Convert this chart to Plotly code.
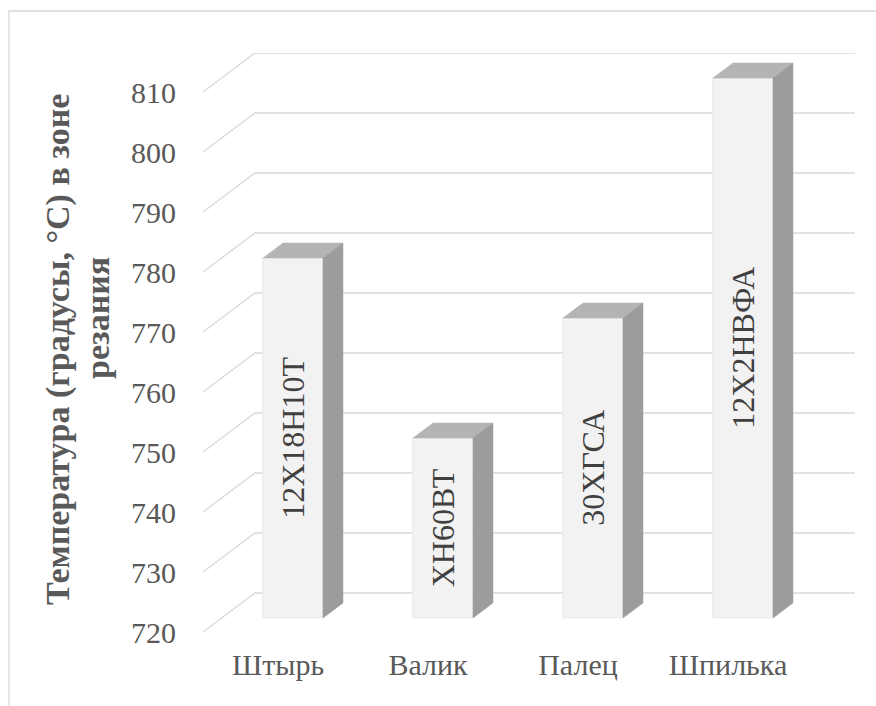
import plotly.graph_objects as go

# ---- data ----
categories = ["Штырь", "Валик", "Палец", "Шпилька"]
temperatures = [780, 750, 770, 810]
steel_grades = ["12Х18Н10Т", "ХН60ВТ", "30ХГСА", "12Х2НВФА"]
y_ticks = [720, 730, 740, 750, 760, 770, 780, 790, 800, 810]
y_title_lines = ["Температура (градусы, °C) в зоне", "резания"]

# ---- pseudo-3D geometry (data units) ----
Y_MIN = 720
WALL_DX, WALL_DY = 0.3467, 6.5      # depth of the back wall
BAR_OFF_X, BAR_OFF_Y = 0.10, 2.33   # bar front plane offset
BAR_DX, BAR_DY = 0.1333, 2.5        # bar depth
BAR_W = 0.4
X_RANGE = [-0.5, 3.8467]
Y_RANGE = [720, 816.5]

FRONT = "#F2F2F2"
TOP = "#B4B4B4"
SIDE = "#9C9C9C"
GRID = "#D9D9D9"
TXT = "#595959"
FONT = "Times New Roman, Liberation Serif, serif"

idx = list(range(len(categories)))
fig = go.Figure()

# front faces
fig.add_trace(go.Bar(
    x=[i + BAR_OFF_X for i in idx],
    y=[v - Y_MIN for v in temperatures],
    base=[Y_MIN + BAR_OFF_Y] * len(idx),
    width=[BAR_W] * len(idx),
    marker=dict(color=FRONT, line=dict(color="#E2E2E2", width=0.6)),
    text=steel_grades,
    textposition="inside",
    insidetextanchor="middle",
    textangle=-90,
    textfont=dict(family=FONT, size=32, color="#404040"),
    constraintext="none",
    hoverinfo="skip",
    showlegend=False,
))

# top and side faces
for i, v in zip(idx, temperatures):
    x0 = i + BAR_OFF_X - BAR_W / 2
    x1 = i + BAR_OFF_X + BAR_W / 2
    top = v + BAR_OFF_Y
    base = Y_MIN + BAR_OFF_Y
    fig.add_trace(go.Scatter(
        x=[x0, x1, x1 + BAR_DX, x0 + BAR_DX, x0],
        y=[top, top, top + BAR_DY, top + BAR_DY, top],
        mode="lines", fill="toself", fillcolor=TOP,
        line=dict(color=TOP, width=0.5), hoverinfo="skip", showlegend=False))
    fig.add_trace(go.Scatter(
        x=[x1, x1 + BAR_DX, x1 + BAR_DX, x1, x1],
        y=[top, top + BAR_DY, base + BAR_DY, base, top],
        mode="lines", fill="toself", fillcolor=SIDE,
        line=dict(color=SIDE, width=0.5), hoverinfo="skip", showlegend=False))

# gridlines: floor-side diagonal + back wall
shapes = []
for t in y_ticks:
    xa = X_RANGE[0]
    xb = X_RANGE[0] + WALL_DX
    shapes.append(dict(
        type="path", xref="x", yref="y", layer="below",
        path=f"M {xa},{t} L {xb},{t + WALL_DY} L {X_RANGE[1]},{t + WALL_DY}",
        line=dict(color=GRID, width=1.4)))

# chart frame (top and left edges visible)
W, H = 876, 706
L, R, T, B = 203, 21, 53, 74
pw, ph = W - L - R, H - T - B
def px(x): return (x - L) / pw
def py(y): return (H - B - y) / ph
shapes.append(dict(type="path", xref="paper", yref="paper", layer="below",
                   path=f"M {px(9)},{py(706)} L {px(9)},{py(11)} L {px(876)},{py(11)}",
                   line=dict(color="#D9D9D9", width=1.3)))

title_pos = [(58, 350), (97, 318)]
annotations = [dict(
    text="<b>" + line + "</b>", xref="paper", yref="paper",
    x=px(cx), y=py(cy), xanchor="center", yanchor="middle",
    textangle=-90, showarrow=False,
    font=dict(family=FONT, size=34, color=TXT))
    for line, (cx, cy) in zip(y_title_lines, title_pos)]

fig.update_layout(
    width=W, height=H,
    margin=dict(l=L, r=R, t=T, b=B, autoexpand=False),
    paper_bgcolor="white", plot_bgcolor="rgba(0,0,0,0)",
    shapes=shapes,
    bargap=0,
    xaxis=dict(range=X_RANGE, tickvals=idx, ticktext=categories,
               showgrid=False, zeroline=False, showline=False, ticks="",
               tickfont=dict(family=FONT, size=30, color=TXT),
               ticklabelstandoff=12, fixedrange=True),
    yaxis=dict(range=Y_RANGE, tickvals=y_ticks,
               showgrid=False, zeroline=False, showline=False, ticks="",
               tickfont=dict(family=FONT, size=30, color=TXT),
               ticklabelstandoff=26, fixedrange=True),
    annotations=annotations,
)

fig.write_html("out.html")
